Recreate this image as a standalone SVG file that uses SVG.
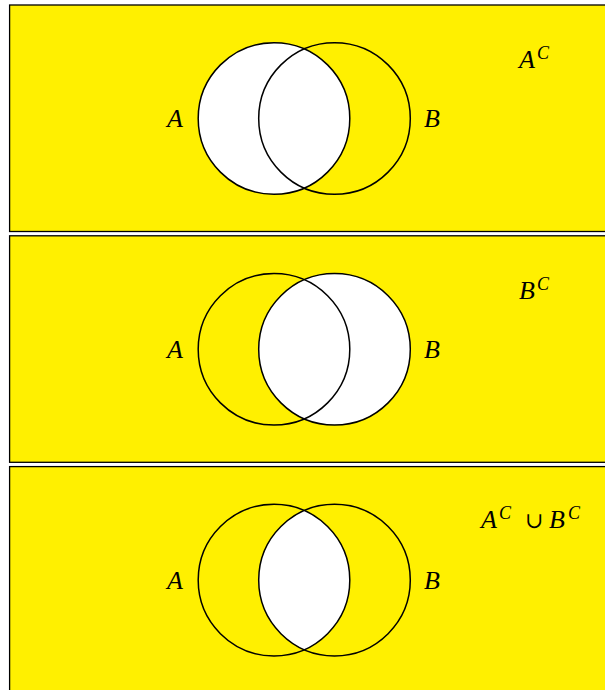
<svg xmlns="http://www.w3.org/2000/svg" width="605" height="690" viewBox="0 0 605 690">
<style>
.bg{fill:#fff000;stroke:#000;stroke-width:1.3}
.ring{fill:none;stroke:#000;stroke-width:1.5}
.wh{fill:#fff;stroke:none}
.lbl{font-family:"Liberation Serif","DejaVu Serif",serif;font-style:italic;font-size:26px;fill:#000}
.sup{font-size:18px}
.op{font-style:normal;font-family:"DejaVu Serif","Liberation Serif",serif;font-size:22px}
</style>
<defs>
<clipPath id="clipA"><circle cx="274" cy="118.5" r="75.8"/></clipPath>
</defs>
<rect width="605" height="690" fill="#fff"/>
<g id="panel1">
<rect class="bg" x="9.6" y="5" width="600" height="226.5"/>
<circle class="wh" cx="274" cy="118.5" r="75.8"/>
<circle class="ring" cx="274" cy="118.5" r="75.8"/>
<circle class="ring" cx="334.5" cy="118.5" r="75.8"/>
<text class="lbl" x="167" y="127.3">A</text>
<text class="lbl" x="424" y="127.3">B</text>
<text class="lbl" x="519" y="68.3">A<tspan class="sup" x="537" dy="-9">C</tspan></text>
</g>
<g id="panel2" transform="translate(0,230.8)">
<rect class="bg" x="9.6" y="5" width="600" height="226.5"/>
<circle class="wh" cx="334.5" cy="118.5" r="75.8"/>
<circle class="ring" cx="274" cy="118.5" r="75.8"/>
<circle class="ring" cx="334.5" cy="118.5" r="75.8"/>
<text class="lbl" x="167" y="127.3">A</text>
<text class="lbl" x="424" y="127.3">B</text>
<text class="lbl" x="519" y="68.3">B<tspan class="sup" x="537" dy="-9">C</tspan></text>
</g>
<g id="panel3" transform="translate(0,461.6)">
<rect class="bg" x="9.6" y="5" width="600" height="260"/>
<circle class="wh" cx="334.5" cy="118.5" r="75.8" clip-path="url(#clipA)"/>
<circle class="ring" cx="274" cy="118.5" r="75.8"/>
<circle class="ring" cx="334.5" cy="118.5" r="75.8"/>
<text class="lbl" x="167" y="127.3">A</text>
<text class="lbl" x="424" y="127.3">B</text>
<text class="lbl" x="481" y="66.4">A<tspan class="sup" x="499" dy="-9">C</tspan><tspan class="op" x="525" dy="9">∪</tspan><tspan x="549">B</tspan><tspan class="sup" x="568" dy="-9">C</tspan></text>
</g>
<g id="connectors"/>
</svg>
